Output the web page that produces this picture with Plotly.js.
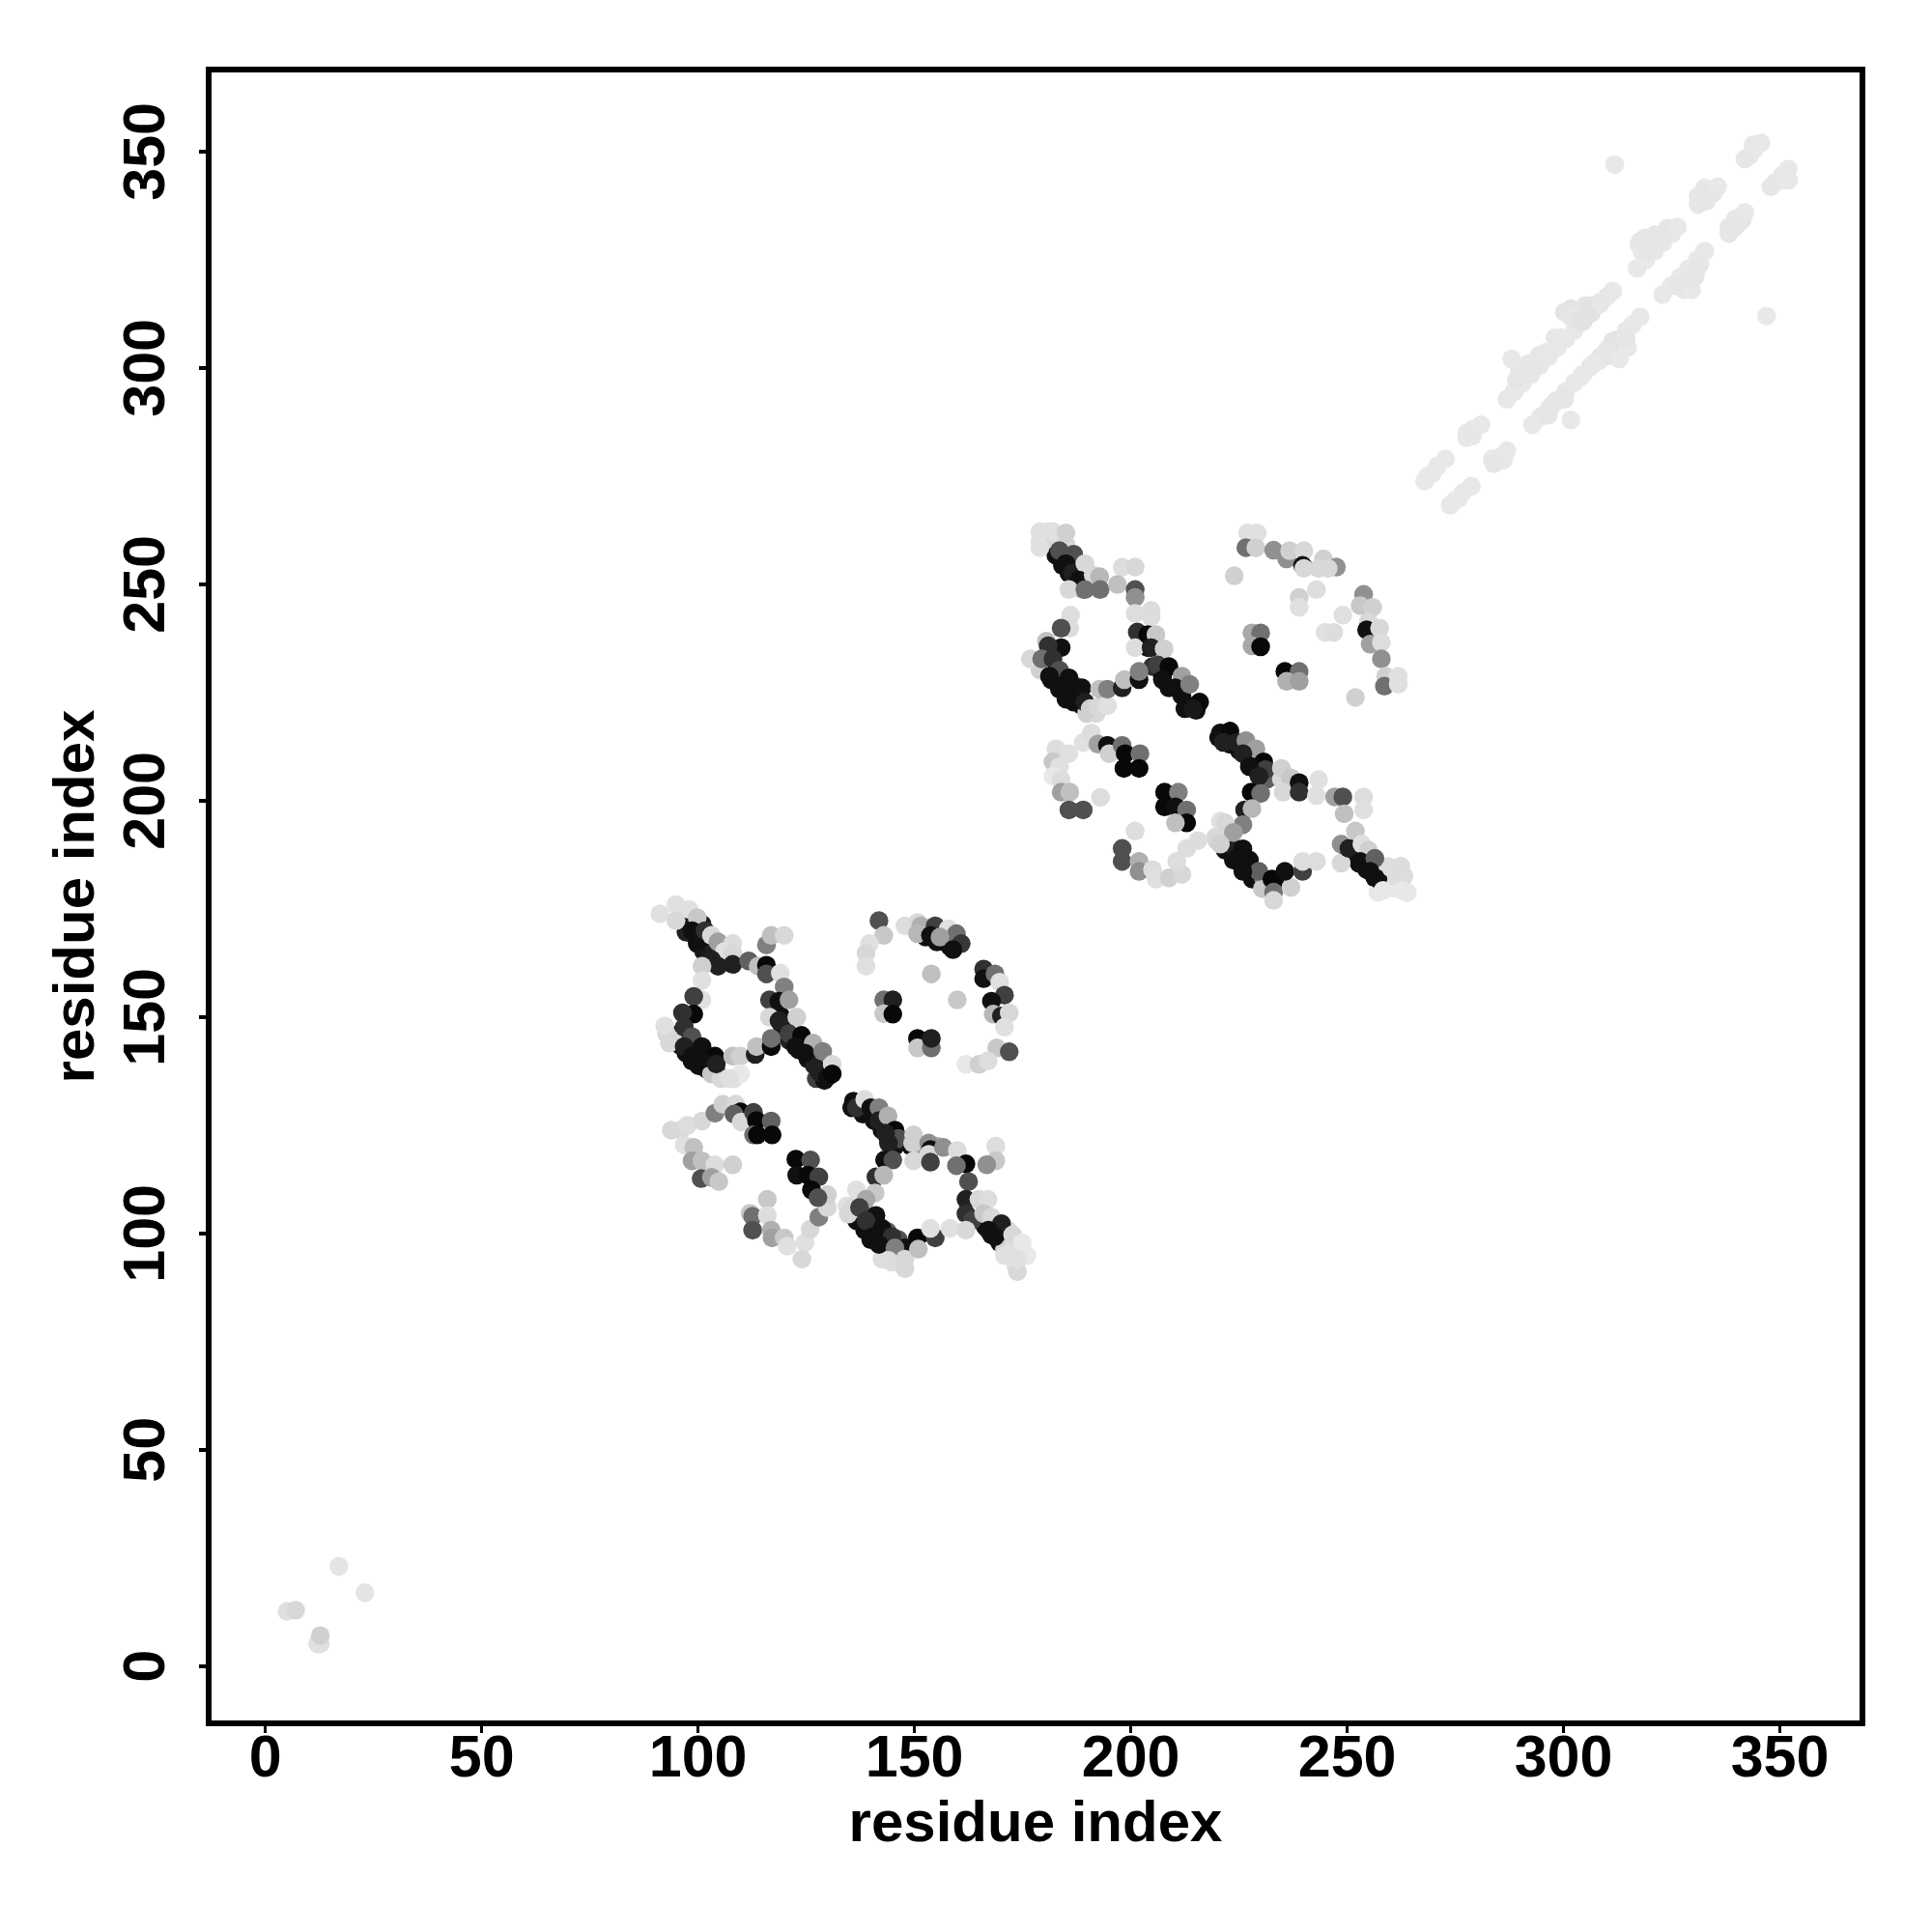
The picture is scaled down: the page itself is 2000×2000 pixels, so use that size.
<!DOCTYPE html>
<html><head><meta charset="utf-8"><script src="https://cdn.plot.ly/plotly-3.0.1.min.js"></script>
<style>html,body{margin:0;padding:0;background:#fff}</style></head><body><div id="c" style="width:2000px;height:2000px"></div>
<script>
const tickVals=[0,50,100,150,200,250,300,350];
const tickText=["0","50","100","150","200","250","300","350"];
// dense underlying contacts, cluster 1
const e1x=[97.9,98.6,99.8,101.3,102.7,97.2,100.9,102,103.9,104.6,95.7,95.7,97.2,98.6,100.1,102,104.2,92.7,94.2,103.1,105.3,108.3,119.5,121,123.2,125.4,126.9,127.3,129.9,129.2,118,119.1,152.6,155.2,158.2,159.3,167.1];
const e1y=[171.5,169.3,167,165.2,163.7,169.7,171.5,169.3,165.6,163,146.2,143.6,141.7,139.9,138.8,138,137.3,146.2,144.7,136.9,135.8,135.8,147.7,144.7,142.5,140.3,138.8,135.8,137.3,135.4,152.9,150.3,168.5,167.4,166.3,168.5,159.6];
const e1g=[0x18,0x10,0x10,0x18,0x18,0x20,0x18,0x10,0x20,0x18,0x10,0x10,0x10,0x10,0x10,0x10,0x10,0xd8,0xd8,0xc8,0xd8,0xe0,0x10,0x20,0x10,0x10,0x20,0x40,0x30,0x10,0x10,0x10,0x10,0x10,0x10,0x60,0x40];
const e2x=[135.5,138.1,140.7,142.5,144,145.5,147,149.2,151.5,155.2,135.1,136.6,138.5,139.9,142.5,145.5,144,147.8,146.3,138.1,140.3,143.7,164.9,166.4,167.8,169.7,170.8,172.7,173.4,171.6,134.4,134.7,142.5,144.8];
const e2y=[129.1,127.6,126.1,123.9,121.7,120.2,121.7,120.2,120.2,120.2,105.3,103,100.8,98.6,97.1,95.6,95.6,95.6,98.6,105.3,102.3,100.5,103.1,101.6,99.7,97.9,96.4,96.4,92.7,100.8,106.4,104.5,94.1,93.4];
const e2g=[0x10,0x10,0x10,0x10,0x10,0x10,0x30,0x10,0xa0,0xb0,0x20,0x10,0x10,0x10,0x10,0xd8,0xd8,0xd8,0x50,0x80,0x20,0x60,0x10,0x10,0x10,0x10,0xd0,0xe0,0xe0,0xd8,0xe0,0xd8,0xdd,0xdd];
// dense underlying contacts, cluster 2
const e3x=[179,180.9,182.4,182.7,184.2,185.7,187.6,189,185,188,180.1,181.6,183.5,185,186.8,188.7,189.8,192,179,187.2,205,207.3,208.8,211.8,212.5,215.1,203.9];
const e3y=[260,262.2,260,256.7,254.4,252.6,250.7,248.8,259.3,254,231,228,225.8,223.5,222.8,222,220.2,220.2,230.2,226.5,231,228.8,226.1,224.3,221.3,220.9,235.4];
const e3g=[0xe0,0xe0,0xd8,0x10,0x10,0x10,0x20,0xa0,0xd8,0x50,0x10,0x10,0x10,0x10,0x10,0x10,0xd0,0xd8,0xd0,0x60,0x30,0x10,0x10,0x10,0x10,0x10,0x10];
const e4x=[220.3,222.9,225.1,227.4,228.9,231.5,234.8,238.5,219.9,221.8,223.7,225.9,228.1,230.7,233.3,230.4,224,250.4,252.7,254.5,256.4,257.1,259.4,260.9,260.9,263.1,259.4,263.9,219.6,220.7];
const e4y=[214.6,213.1,211.6,209.4,207.2,205,205,202.7,190.8,188.6,186.3,184.1,181.9,181.9,181.1,179.7,189,187.8,185.6,184.1,182.2,178.9,181.9,179.8,182.6,182.6,184.8,178.8,191.6,195.3];
const e4g=[0x10,0x10,0x10,0x10,0x10,0x60,0xd8,0xd8,0xd0,0x10,0x10,0x10,0x10,0x80,0x10,0xc8,0x20,0x10,0x10,0x10,0x10,0xe8,0xe0,0xe8,0xdd,0xdd,0xdd,0xe8,0xd8,0xe0];
// dense underlying contacts, strands
const e5x=[268.6,270.9,277.6,279,288.5,290.5,292.5,294.5,296.5,298.5,300.5,302.5,304.5,306.5,308.5,310,300.2,301.7,305,305.5,298,289.8,292,294.3,319,321,323,325,317.4,318.8,321.1,324,321.8,318.1,331.1,333,334.5,332.6,343,344.1];
const e5y=[275,277.4,285,284.3,294.5,296.5,298.5,300.6,302.6,304.7,306.7,308.7,310.7,312.8,314.8,316.5,312.9,313.7,314.4,312.2,307,299.5,301,302.9,325,327,329,331,328.5,330,330.8,332.3,328.9,327,339.7,338.6,340.4,341.6,349,350.5];
const e5g=[0xe8,0xe8,0xe8,0xe8,0xe8,0xe8,0xe8,0xe8,0xe8,0xe8,0xe8,0xe8,0xe4,0xe4,0xe8,0xe8,0xe4,0xe4,0xe4,0xe2,0xe6,0xe6,0xe6,0xe6,0xe8,0xe8,0xe8,0xe8,0xe6,0xe6,0xe6,0xe6,0xe6,0xe8,0xe6,0xe6,0xe6,0xe8,0xe8,0xe8];
const e6x=[274.9,276.8,285.4,283.5,286.1,294.5,296.5,298.5,300.5,302.5,304.5,306.5,308.5,310.5,312.5,314.5,316,297.3,295.4,300.2,306.2,308.4,310.7,312.9,314.4,311.4,324.9,326.9,328.9,330.9,327.8,329.6,330.7,339.5,340.5,339.7,338.2,341.5,349,350.5,350.1,352];
const e6y=[269.4,271.3,279.4,279,278.7,288.6,290.6,292.6,294.6,296.6,298.6,300.6,302.6,304.6,306.6,308.6,310.1,291.3,289.1,293.6,300.3,301.8,302.9,304,306.2,306.2,319,321,323,325,318.1,320.4,322.6,332.5,333.5,334.5,332.6,335.2,343,344.5,343.4,343.4];
const e6g=[0xe8,0xe8,0xe8,0xe8,0xe8,0xe8,0xe8,0xe8,0xe8,0xe8,0xe8,0xe8,0xe4,0xe4,0xe4,0xe8,0xe8,0xe6,0xe6,0xe6,0xe6,0xe6,0xe4,0xe4,0xe4,0xe4,0xe8,0xe8,0xe8,0xe8,0xe6,0xe6,0xe6,0xe6,0xe6,0xe8,0xe6,0xe6,0xe8,0xe8,0xe8,0xe8];
// cluster 1, top-left arc
const a1x=[91.2,94.9,97.9,94.9,99.8,98.6,100.1,101.6,103.1,104.6,108,106.1,108,103.1,104.6,108,111.7,113.9,115.8,115.8,115.8,116.9,119.9,119,119.9,100.9,100.9,100.9,99,99,96.4,96.8,92.3,93.4,98.6,96.8,100.9,98.6,103.9,100.9,104.2,108,109.8,109.8,107.2,113.2,113.5,116.9,116.9,116.5,116.5,118.7,121,118.7,122.8,121,123.9,122.5,126.6,124.7,128.8,128,129.9,131,131];
const a1y=[173.9,176,174.9,172.3,173,170,167.8,170,168.9,167.4,167,165.2,164.8,163.3,161.8,162.2,163,161.8,162,160,166.7,168.9,168.9,160.2,157,161.8,158.5,154,154.8,150.7,151,147.7,148,144,145.5,143.2,143.2,141,141,140.3,139.2,141,141,136.9,135.8,141.4,143.2,143.2,145.1,154,150,153.7,154,149.2,150,146.2,145.8,143.2,144,141.7,142.1,137.3,136.2,139.1,136.9];
const a1g=[0xe0,0xe0,0xe0,0xd8,0xc8,0x10,0x10,0x30,0xd8,0xa0,0xdd,0xe0,0xd8,0x20,0x20,0x20,0x60,0xc0,0x08,0x50,0x80,0xc0,0xd8,0xe0,0x80,0xd0,0xe0,0xe0,0x40,0x08,0x30,0x30,0xe0,0xd8,0x50,0x20,0x10,0x10,0x08,0x10,0x20,0xc0,0xd0,0xe8,0xe0,0x20,0xc0,0x08,0x70,0x40,0xd8,0x10,0xa0,0x20,0xd0,0x40,0x08,0x10,0xb0,0x10,0x80,0x20,0x10,0xd8,0x08];
// cluster 1, top-right arc
const a2x=[141.8,142.9,147.8,150.7,151.5,150.7,154.8,153.7,157.8,159.7,155.9,160.8,158.9,139.6,138.8,138.8,153.9,159.9,142.9,145,142.9,145,150.7,150.7,153.9,153.9,166,166,168.6,169.7,170.8,167.8,168.2,170.1,171.9,170.8,169,171.9,161.9,164.9,167];
const a2y=[172.3,168.9,171.1,171.9,171.1,169.3,171.1,168.9,170.4,169.3,168.5,167,165.6,167,164.8,161.8,160,154,154,154,150.8,150.7,145.1,142.9,142.9,145.1,161.1,158.9,160,158.1,155.1,153.7,150.7,150.3,151,147.7,142.9,142,139.1,139.1,139.9];
const a2g=[0x50,0xc8,0xdd,0xd8,0xb0,0xb8,0x40,0x10,0xe0,0x70,0xa0,0x38,0x10,0xe0,0xd8,0xe0,0xc0,0xc8,0x70,0x20,0xc8,0x08,0x08,0xc8,0x70,0x20,0x30,0x10,0x70,0xe0,0x40,0x10,0xb8,0x20,0xd8,0xe0,0xc8,0x50,0xe8,0xd0,0xdd];
// cluster 1, bottom-left arc
const a3x=[93.8,96,97.5,100.9,103.9,105.7,108.7,109.8,108.3,110,112.8,113.5,116.9,112.8,113.7,117.1,96.8,99,98.6,100.9,103.9,108,100.7,103.1,104.8,116,112,112.6,112.6,116,116.9,117.1,119.9,120.6,124.7,124,125.9,127.9,129.9,129.9,122.6,126,122.8,125.4,127.9,126.2,127.7];
const a3y=[123.9,123.9,125,126,127.8,129.9,129.9,128.1,127.6,125.8,128,126.1,126,122.8,122.8,122.8,120.5,119.9,116.8,116.8,115.9,115.9,112.7,113,112,107.9,104.7,104,100.8,104.2,100.8,99,99,97.1,97.9,94.1,101,103.8,106,109,117.2,117,113.5,113.5,113.1,110.1,108.3];
const a3g=[0xd8,0xd8,0xdd,0xd8,0x80,0xd0,0xd8,0x08,0x60,0xd8,0x40,0x08,0x60,0x70,0x08,0x08,0xe0,0xc0,0xa0,0xc0,0xdd,0xd0,0x50,0xa0,0xc8,0xc8,0xc8,0x70,0x50,0xdd,0xb0,0xa0,0xc8,0xe0,0xe0,0xd8,0xd8,0x80,0xd8,0xd0,0x08,0x50,0x10,0x08,0x40,0x08,0x50];
// cluster 1, bottom-right arc
const a4x=[135.9,136.6,138.5,139.9,141.8,141.8,143.9,145.5,146.3,143.3,144,149.8,149.6,153.3,153.7,153.3,156.7,159.9,161.9,159.7,168.8,168.8,166.7,149.8,153.7,143.1,145,141.1,142.9,136.6,140.9,138.8,162.5,161.9,164.9,167,161.9,163.4,166,167.8,170.1,167.1,168.6,172.7,174.9,176,173.8,170.8,173.8,135.9,137.3,141.1,138.8,142.5,140.3,144.8,141.8,147.8,145.5,144,147.8,147.8,150.7,150.9,154.8,153.7,158.2,161.9];
const a4y=[130.6,129.1,131,129.1,129.1,126.1,127.2,123.9,122,123.2,120.9,122.8,120.9,120.9,119.4,118.3,119.9,119.2,116.1,115.7,120.2,116.8,115.9,116.8,116.5,117,117,113.1,113.5,110.1,109.4,107.9,112,107.9,107.9,107.9,104.6,103.1,104.6,103.8,102.3,100.8,99.3,99.7,97.9,94.9,91.2,94.9,94.1,106,106,104.2,103,101.2,99.3,99.3,97.5,96.7,96.7,93.8,94.1,91.9,99,96.4,99,101.2,101.2,100.8];
const a4g=[0x10,0x30,0xdd,0x10,0x80,0x20,0xb0,0x08,0x50,0x20,0x20,0xd0,0xd0,0x90,0x10,0xd8,0x90,0xdd,0x08,0x70,0xdd,0xc8,0x90,0xd8,0x40,0x10,0x50,0x30,0xb8,0xe0,0xc8,0xa8,0x50,0x20,0xd8,0xdd,0x30,0x40,0xc8,0xd8,0x20,0x10,0x10,0xd8,0xe8,0xe8,0xd8,0xe0,0xe0,0xd8,0x40,0x10,0x30,0x10,0x10,0x30,0x10,0x10,0x80,0xdd,0xd8,0xd8,0x08,0xc0,0x40,0xe0,0xe0,0xd8];
// cluster 2, top-left arc
const b1x=[179,179,182,185,183.5,186.8,185,186.5,189.4,188,191.3,192.8,185.7,189.4,192.9,198,201,196.9,201,201,201,204.7,204.7,186.1,185.9,183.9,183.9,180.5,180.9,176.8,179.4,182,183.5,181.2,185.7,183.5,186.1,188.7,189.4,190.6,192.4,194.6,192.8,194.6,198,198.5,201.9,201.9,201.5,201,203.9,205.8,204.7,207.7,206.2,208.8,207.3,211.8,210.3,213.6,213.2,215.9,214.4];
const b1y=[262.2,258.5,262.2,261.9,257.8,257,254.8,252.6,254.8,251,252.2,251.8,248.8,248.8,248.8,254,254,250,248.8,247,243.3,244,242.5,242.9,239.9,239.9,235.4,236.9,235.8,232.8,232.8,232.8,230.2,228.8,228.4,226.5,225,226.1,222.8,221.3,221.7,222,225.8,225.8,226.1,228,228,229.9,239,235.4,238.4,238.4,235.4,235.1,231.4,231,228,228.8,226.1,226.9,222,222.8,221.3];
const b1g=[0xe0,0xe0,0xe0,0xd0,0x50,0x50,0x10,0x20,0xd8,0x10,0xd8,0xb8,0xd8,0x70,0x70,0xdd,0xd8,0xc0,0x50,0x90,0xdd,0xdd,0xdd,0xdd,0xdd,0x50,0x10,0xc0,0x30,0xd8,0x70,0x30,0x50,0x10,0x10,0x10,0x10,0x10,0x20,0xd0,0xd8,0xe0,0xc0,0x80,0x20,0xc0,0x10,0x80,0x30,0xdd,0x08,0xc8,0x20,0xd0,0x40,0x08,0x10,0xa0,0x10,0x80,0x10,0x08,0x18];
// cluster 2, top-right arc
const b2x=[227,229.2,226.6,228.9,233,236,236.7,240,239.7,240,244.5,243.4,247.5,245.6,223.9,238.9,238.9,242.9,249,244.9,246.9,228,230,228,230,235.6,238.9,236,238.9,253.8,253,255.9,254.9,254.5,257.5,255.3,257.9,257.9,258.9,258.6,261.8,261.8,251.9];
const b2y=[261.9,261.9,258.5,258.5,257.9,255.9,257.8,257.8,254.4,253.7,255.9,253.7,254,253.7,252,247,244.7,248.8,242.9,238.9,238.9,238.8,238.8,235.8,235.6,229.9,229.9,227.6,227.6,247.7,245.1,244.7,241.4,239.5,239.9,236.2,236.6,232.8,228.8,226.5,228.8,226.9,223.9];
const b2g=[0xe0,0xe0,0x70,0xd0,0x90,0x90,0xd0,0xd8,0x10,0xd8,0xd0,0xd8,0x90,0xd8,0xd0,0xd0,0xe0,0xdd,0xe0,0xe0,0xdd,0xa8,0x70,0xa8,0x08,0x08,0x70,0xb0,0xa0,0x90,0xc8,0xd0,0xd8,0x10,0xd8,0xa0,0xdd,0x90,0xd0,0x70,0xe0,0xe0,0xd0];
// cluster 2, bottom-left arc
const b3x=[182.7,182,185.7,183.5,182,183.9,183.9,185.9,185.7,189,193,189,190.9,192.4,194.6,195,198,198.7,202.1,198.4,201.9,207.8,211,207.8,210.3,212.9,212.9,210.3,201,215.5,212.9,198,198,201.9,201.9,205,205.8,208.8,211.8,210.6];
const b3y=[212,209,210.9,207.9,205.7,204.9,202,202,197.9,197.9,200.8,213.5,215.7,213.1,212.8,210.9,212.8,210.9,210.9,207.5,207.5,202,202,198.6,198.6,197.9,194.9,194.9,193,190.8,189,189,186,186,183.7,184.1,181.9,182.2,183,186];
const b3g=[0xdd,0xc8,0xe0,0xe0,0xe8,0xdd,0xa0,0xc0,0x50,0x50,0xdd,0xe0,0xdd,0xa0,0x10,0xd0,0x70,0x08,0x70,0x08,0x08,0x08,0x80,0x08,0x10,0x70,0x08,0xc0,0xdd,0xdd,0xdd,0x50,0x50,0xb0,0x90,0xdd,0xe0,0xd0,0xd8,0xdd];
// cluster 2, bottom-right arc
const b4x=[220.7,222.9,221.4,224.4,226.6,228.9,225.9,230.7,231.1,227.4,229.6,234.8,237,235.2,238.9,238.9,243.4,242.9,247.1,249,253.8,253.8,249.3,227.8,230,226.3,228,225.9,221.8,223.7,225.9,220.7,227.4,224.4,229.6,225.9,232.6,233,233,237,235.6,239.7,239.7,242.9,248.6,251.9,248.6,250.4,253.4,254.9,253,256.4,255.3,257.1,260.1,262.4,262.7,258.3,262.7];
const b4y=[215.7,216.1,213.5,213.5,213.9,212,210.9,209,207.2,207.9,205.7,207.5,205.3,202,204.2,202,204.9,201.2,200.9,200.9,200.9,197.9,197,202,201.7,197.9,198.2,194.5,194.9,192.7,188.9,190,186.3,186.7,183.7,183.7,181.9,178.9,177,180,183.7,183.7,186,186,190,193,185.6,189,190,188.6,186,186.7,183.7,181.9,184.5,184.9,181.9,179.3,179.3];
const b4g=[0x10,0x08,0x20,0x20,0x90,0xa0,0x20,0x08,0x40,0x10,0x20,0xd0,0xc8,0xd8,0x10,0x30,0xe0,0xe0,0xa0,0x50,0xdd,0xe0,0xc0,0x08,0x70,0x20,0xb8,0x80,0xd8,0xa0,0x10,0xd0,0x10,0x10,0x60,0x10,0x08,0x70,0xd8,0xd0,0x10,0x40,0xdd,0xdd,0x90,0xc8,0xd8,0x20,0xe0,0xd0,0x10,0x60,0x10,0x10,0xdd,0xdd,0xdd,0xe8,0xe8];
// upper-right strands
const c1x=[267.9,269.7,272.7,277.6,279,280.9,286.9,288.7,288,289.1,290.9,293.6,295.8,299.5,301.7,304,306.2,308.4,311.4,311.8,317,317.7,319.6,322.6,326.3,331.1,333,335.6,341.9,343.8,345.6];
const c1y=[273.9,275.7,279,283.9,285.8,286.9,292.8,294.7,302.1,297.3,299.5,300.6,303.6,307,311.8,310.7,314.4,315.2,317.8,347,323,329.3,327,330,332.6,337.8,340.4,341.9,348.3,351.6,352];
const c1g=[0xe8,0xe8,0xe8,0xe8,0xe6,0xe8,0xe8,0xe8,0xe8,0xe6,0xe6,0xe6,0xe8,0xe8,0xe6,0xe2,0xe2,0xe6,0xe8,0xe8,0xe8,0xe6,0xe6,0xe6,0xe8,0xe6,0xe6,0xe8,0xe6,0xe8,0xe8];
const c2x=[273.8,275.7,278.7,283.9,286.9,292.8,296.5,301.7,300.2,298,304,306.9,309.9,312.9,314.8,314.4,317.7,322.9,326.3,329.6,330.4,331.5,332.6,338.2,341.2,341.9,347.9,351.6,351.9,346.9];
const c2y=[268.3,269.8,272.7,277.9,280.9,286.9,289.1,288,292.8,292.1,298,301,304,302.1,304.7,307,311.8,317,318.9,318.1,321.1,324.1,327,331.1,334.1,336,341.9,344.2,346,312];
const c2g=[0xe8,0xe8,0xe8,0xe6,0xe8,0xe8,0xe6,0xe8,0xe6,0xe6,0xe8,0xe8,0xe6,0xe8,0xe8,0xe6,0xe8,0xe8,0xe6,0xe8,0xe6,0xe6,0xe8,0xe6,0xe6,0xe8,0xe6,0xe8,0xe8,0xe8];
// lower-left group
const d1x=[5,7,12.1,12.7,12.7,17,23];
const d1y=[12.7,13,5.2,5.2,7.1,23.1,17];
const d1g=[0xe0,0xd8,0xe0,0xe0,0xd0,0xe4,0xe4];

const groups=[[e1x,e1y,e1g],[e2x,e2y,e2g],[e3x,e3y,e3g],[e4x,e4y,e4g],[e5x,e5y,e5g],[e6x,e6y,e6g],[a1x,a1y,a1g],[a2x,a2y,a2g],[a3x,a3y,a3g],[a4x,a4y,a4g],[b1x,b1y,b1g],[b2x,b2y,b2g],[b3x,b3y,b3g],[b4x,b4y,b4g],[c1x,c1y,c1g],[c2x,c2y,c2g],[d1x,d1y,d1g]];
const traces=groups.map(g=>({type:'scatter',mode:'markers',x:g[0],y:g[1],hoverinfo:'skip',
  marker:{size:19.5,color:g[2].map(v=>`rgb(${v},${v},${v})`),line:{width:0}}}));
const f={family:'"Liberation Sans",Arial,sans-serif',size:61,color:'#000',weight:700};
const tf={family:'"Liberation Sans",Arial,sans-serif',size:60,color:'#000',weight:700};
function ax(extra){return Object.assign({showline:true,mirror:true,linewidth:6,linecolor:'#000',showgrid:false,zeroline:false,
 ticks:'outside',ticklen:7,tickwidth:3.5,tickcolor:'#000',tickmode:'array',tickvals:tickVals,ticktext:tickText,tickfont:f},extra);}
Plotly.newPlot('c',traces,{width:2000,height:2000,showlegend:false,paper_bgcolor:'#fff',plot_bgcolor:'#fff',
 margin:{l:219,r:75,t:75,b:219,autoexpand:false},
 xaxis:ax({range:[-12.43,368.4],ticklabelstandoff:-28,title:{text:'<b>residue index</b>',font:tf,standoff:7}}),
 yaxis:ax({range:[-12.5,368.3],tickangle:-90,ticklabelstandoff:12,ticklabelshift:9,title:{text:'<b>residue index</b>',font:tf,standoff:0}})
},{staticPlot:true,displayModeBar:false});
</script></body></html>
